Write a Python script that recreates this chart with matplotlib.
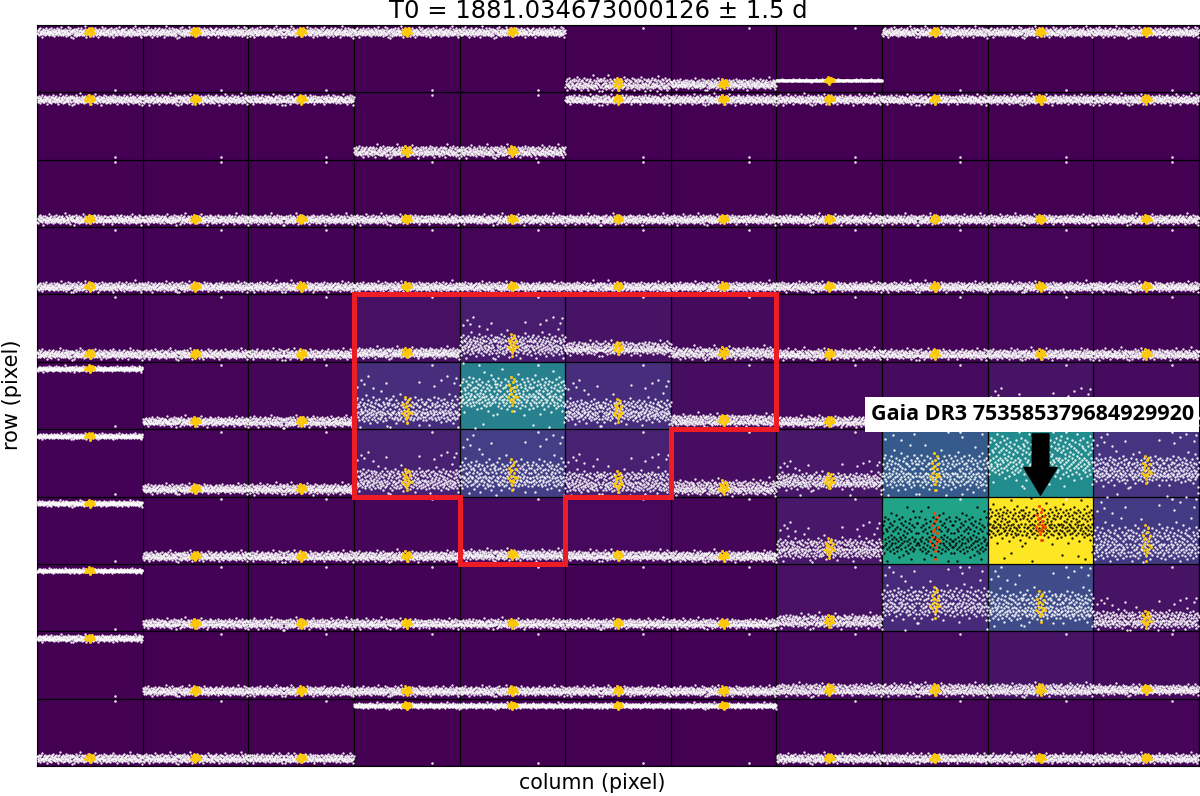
import numpy as np
import matplotlib
matplotlib.use("Agg")
import matplotlib.pyplot as plt
from matplotlib.patches import Rectangle

TITLE = "T0 = 1881.034673000126 ± 1.5 d"
XLABEL = "column (pixel)"
YLABEL = "row (pixel)"
LABEL = "Gaia DR3 753585379684929920"

# relative flux of each pixel (0..1 on viridis)
flux = [
    [0, 0, 0, 0, 0, 0, 0, 0, 0, 0, 0],
    [0, 0, 0, 0, 0, 0, 0, 0, 0, 0, 0],
    [0, 0, 0, 0, 0, 0, 0, 0, 0, 0, 0],
    [.005, .005, .005, .005, .01, .005, .005, .005, .005, .01, .005],
    [.005, .01, .01, .04, .08, .05, .025, .01, .01, .02, .015],
    [.005, .01, .015, .13, .43, .13, .035, .02, .03, .05, .03],
    [.005, .01, .01, .09, .18, .09, .035, .06, .28, .48, .15],
    [.005, .005, .01, .015, .03, .02, .015, .06, .58, 1.0, .17],
    [0, .005, .005, .005, .01, .005, .005, .04, .12, .23, .05],
    [0, 0, .005, .005, .005, .005, .005, .02, .03, .05, .025],
    [0, 0, 0, 0, 0, 0, 0, .005, .01, .01, .01],
]

# vertical place of the light curve inside each pixel (0 top, 1 bottom)
level = [
    [.10, .10, .10, .10, .10, .87, .87, .82, .10, .10, .10],
    [.10, .10, .10, .87, .87, .10, .10, .10, .10, .10, .10],
    [.88, .88, .88, .88, .88, .88, .88, .88, .88, .88, .88],
    [.88, .88, .88, .88, .88, .88, .88, .88, .88, .88, .88],
    [.88, .88, .88, .86, .74, .79, .86, .88, .88, .88, .88],
    [.10, .88, .88, .71, .46, .71, .86, .88, .86, .80, .86],
    [.10, .88, .88, .74, .67, .77, .86, .76, .62, .40, .59],
    [.10, .88, .88, .88, .86, .87, .88, .76, .57, .38, .68],
    [.10, .88, .88, .88, .88, .88, .88, .84, .56, .62, .82],
    [.10, .88, .88, .88, .88, .88, .88, .86, .86, .86, .86],
    [.88, .88, .88, .10, .10, .10, .10, .88, .88, .88, .88],
]

# half-width of the light curve band inside each pixel
spread = [
    [.055, .055, .055, .055, .055, .08, .06, .012, .055, .055, .055],
    [.055, .055, .055, .065, .065, .055, .055, .055, .055, .055, .055],
    [.055, .055, .055, .055, .055, .055, .055, .055, .055, .055, .055],
    [.055, .055, .055, .055, .055, .055, .055, .055, .055, .055, .055],
    [.055, .055, .06, .06, .14, .08, .07, .06, .06, .06, .06],
    [.03, .055, .06, .17, .22, .15, .07, .06, .10, .14, .09],
    [.03, .055, .06, .14, .20, .14, .09, .10, .24, .30, .18],
    [.03, .055, .06, .06, .06, .06, .06, .13, .30, .22, .23],
    [.025, .055, .06, .055, .055, .055, .055, .08, .20, .20, .11],
    [.04, .055, .055, .055, .055, .055, .055, .07, .07, .07, .06],
    [.055, .055, .055, .03, .03, .03, .03, .055, .055, .055, .055],
]

# light curve shapes, in band half-widths, read in time order
curve_a = [.3, -.5, .6, -.1, .9, -.7, .2, .5, -.9, .4, -.3, .7, 1.3, -.2, .1, -.8, .6, .3, -.4, .8,
           -.6, .0, .5, -1.1, .4, .2, -.5, .7, -.2, .9, .1, -.7, .4, -.3, .6, -1.0, .2, .8, -.4, .3,
           -.1, .6, -.8, 1.1, .1, -.3, .5, -.6, .2, .7, -.9, .4, .0, -.5, 1.0, -.2, .3, -.7, .6, .1,
           -.4, .8, -1.4, .3, -.1, .5, .9, -.6, .2, -.3, .7, -.8, .4, 1.2, -.2, .6, -.5, .1, .8, -1.2,
           .3, -.4, .7, .2, -.9, .5, 1.5, -.1, .4, -.6]
curve_b = [-.6, .2, .8, -.3, .5, -.9, .1, 1.0, -.4, .6, .3, -.7, .2, -1.2, .7, -.1, .4, -.5, .9, .0,
           -.8, .3, .6, -.2, 1.4, -.6, .1, .5, -.4, .8, -.9, .2, .3, -.1, .7, -.5, 1.1, -.3, .4, -.7,
           .6, -1.0, .1, .5, -.2, .9, -.6, .3, .0, -.8, .7, .2, -.4, 1.3, -.1, .5, -.7, .4, -1.5, .2,
           .8, -.3, .6, -.5, .1, 1.0, -.9, .3, -.2, .7, -.6, .4, .9, -.1, -1.1, .5, .2, -.4, .8, -.7,
           .3, 1.2, -.2, .6, -.8, .1, .9, -.5, 1.6, -.3]
curve_c = [.7, .1, -.4, 1.1, -.8, .3, .5, -.2, -1.0, .6, .2, -.5, .9, -.3, .4, 1.5, -.7, .1, -.1, .8,
           .3, -.9, .6, -.4, .2, 1.0, -.6, .0, .5, -.2, -1.3, .7, .4, -.5, .1, .9, -.8, .3, -.1, .6,
           -.4, 1.2, .2, -.7, .5, -.3, .8, .0, -1.1, .4, .6, -.2, .1, -.6, .9, .3, -.8, .5, -.1, 1.1,
           -.5, .2, .7, -.4, -.9, .4, .1, .8, -.3, .6, -1.6, .2, .5, -.7, 1.0, -.1, .3, -.5, .7, .4,
           -.2, -1.0, .9, .1, -.6, 1.4, .3, -.4, .6, -.8]
curves = [curve_a, curve_b, curve_c]

# stray points of the noisier pixels, drifting off the band near the ends of the series
stray_x = [.03, .07, .10, .13, .15, .18, .22, .30, .42, .62, .70, .76, .79, .82, .85, .88, .92, .95, .97, .99]
stray_y = [-2.0, -2.6, -2.2, -2.9, 2.4, -1.9, 2.1, -2.3, 2.6, -2.4, 2.2, -2.1, 2.8, -2.6, 2.3, -2.9, 2.5, -2.3, -2.8, 2.0]

# transit points near mid time
transit_dx = [-.042, -.032, -.024, -.017, -.01, -.003, .004, .01, .016, .024, .033, .042, -.012, .018, .0, .007, -.021]
transit_dy = [.3, -.5, .5, .1, -.3, .8, -.7, .4, -.1, .2, -.4, .3, -1.1, -.9, 1.2, .6, -.2]

# lone outlier in every pixel
outlier_x = 0.74
top_band_outlier_y = 0.96
bottom_band_outlier_y = 0.04

# red aperture outline (column, row corners), target pixel, label box
aperture_col = [3, 7, 7, 6, 6, 5, 5, 4, 4, 3, 3]
aperture_row = [4, 4, 6, 6, 7, 7, 8, 8, 7, 7, 4]
target_col, target_row = 9.5, 7.0
label_col, label_row = 9.42, 5.78
box_col0, box_col1, box_row0, box_row1 = 7.84, 11.0, 5.52, 6.04

fig = plt.figure(figsize=(12, 7.96), dpi=100)
ax = fig.add_axes([37 / 1200, (796 - 766) / 796, 1162 / 1200, 741 / 796])
n_rows, n_cols = len(flux), len(flux[0])
ax.pcolormesh(np.arange(n_cols + 1), np.arange(n_rows + 1), np.array(flux),
              cmap="viridis", vmin=0, vmax=1, zorder=1)
ax.set_xlim(0, n_cols)
ax.set_ylim(n_rows, 0)
ax.set_xticks([])
ax.set_yticks([])
ax.vlines(np.arange(n_cols + 1), 0, n_rows, color="black", lw=0.9, zorder=2)
ax.hlines(np.arange(n_rows + 1), 0, n_cols, color="black", lw=0.9, zorder=2)

for r in range(n_rows):
    for c in range(n_cols):
        f, lv, sp = flux[r][c], level[r][c], spread[r][c]
        dark = f > 0.55
        curve = np.array(curves[(r + c) % 3] + curves[(r + 2 * c + 1) % 3][::-1] + curves[(2 * r + c + 2) % 3])
        xs = (np.arange(curve.size) + 0.5) / curve.size
        ys = lv + sp * curve
        if sp >= 0.1:
            xs = np.concatenate([xs, stray_x])
            ys = np.concatenate([ys, lv + sp * np.array(stray_y)])
        keep = (ys > 0.01) & (ys < 0.99)
        ax.scatter(c + xs[keep], r + ys[keep], s=2.9, color="black" if dark else "white",
                   alpha=0.92, linewidths=0, zorder=3)
        oy = top_band_outlier_y if lv < 0.3 else bottom_band_outlier_y
        ax.scatter(c + outlier_x, r + oy, s=3.4, color="white", alpha=0.9, linewidths=0, zorder=3)
        tx = c + 0.5 + np.array(transit_dx)
        ty = r + lv + max(sp, .045) * np.array(transit_dy)
        ax.scatter(tx, ty, s=4.5, color="orangered" if dark else "#FFC800",
                   linewidths=0, zorder=4)

ax.plot(aperture_col, aperture_row, color="#EE1C25", lw=3.6, zorder=5, solid_joinstyle="miter",
        solid_capstyle="projecting")

ax.annotate("", xy=(target_col, target_row - 0.02), xytext=(target_col, target_row - 0.93),
            arrowprops=dict(facecolor="black", edgecolor="black", width=12, headwidth=24,
                            headlength=20, shrink=0), zorder=7)
ax.add_patch(Rectangle((box_col0, box_row0), box_col1 - box_col0, box_row1 - box_row0,
                       facecolor="white", edgecolor="none", zorder=8))
ax.text(label_col, label_row, LABEL, fontsize=15.5, fontweight="bold",
        family="Open Sans", ha="center", va="center", color="black", zorder=9)

fig.text(598 / 1200, 1 - 10.5 / 796, TITLE, fontsize=17.5, ha="center", va="center")
fig.text(592 / 1200, 1 - 783 / 796, XLABEL, fontsize=14.8, ha="center", va="center")
fig.text(12 / 1200, 1 - 395 / 796, YLABEL, fontsize=15, rotation=90, ha="center", va="center")

fig.savefig("out.png", dpi=100)
